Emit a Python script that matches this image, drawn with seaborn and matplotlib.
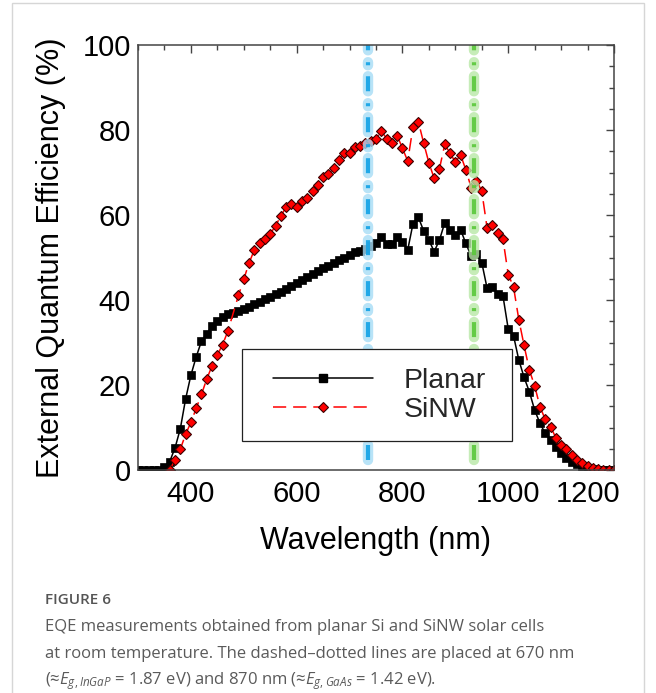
import numpy as np
import pandas as pd
import matplotlib
matplotlib.use("Agg")
import matplotlib.pyplot as plt
import seaborn as sns
from matplotlib.patches import Rectangle
from matplotlib.transforms import ScaledTranslation
from matplotlib.lines import Line2D

# ---------------- data ----------------
planar_wl = [300, 310, 320, 330, 340, 350, 360, 370, 380, 390,
             400, 410, 420, 430, 440, 450, 460, 470, 480, 490,
             500, 510, 520, 530, 540, 550, 560, 570, 580, 590,
             600, 610, 620, 630, 640, 650, 660, 670, 680, 690,
             700, 710, 720, 730, 740, 750, 760, 770, 780, 790,
             800, 810, 820, 830, 840, 850, 860, 870, 880, 890,
             900, 910, 920, 930, 940, 950, 960, 970, 980, 990,
             1000, 1010, 1020, 1030, 1040, 1050, 1060, 1070, 1080, 1090,
             1100, 1110, 1120, 1130, 1140, 1150, 1160, 1170, 1180, 1190,
             1200]
planar_eqe = [0.0, 0.0, 0.0, 0.0, 0.0, 0.8, 2.0, 5.2, 9.7, 16.7,
              22.3, 26.6, 30.3, 32.0, 33.9, 35.0, 36.0, 36.6, 37.0, 37.4,
              37.9, 38.4, 39.0, 39.6, 40.2, 40.8, 41.4, 42.0, 42.7, 43.4,
              44.1, 44.8, 45.5, 46.2, 46.9, 47.5, 48.1, 48.8, 49.4, 50.0,
              50.6, 51.2, 51.6, 52.1, 52.6, 53.4, 54.9, 53.2, 53.2, 54.9,
              53.7, 51.8, 58.0, 59.5, 56.3, 54.1, 51.4, 54.1, 58.2, 56.5,
              55.3, 56.5, 53.3, 50.3, 50.9, 48.8, 42.8, 43.1, 41.3, 41.0,
              33.2, 31.6, 25.9, 21.8, 18.4, 14.1, 11.0, 8.6, 7.1, 5.5,
              3.9, 2.9, 2.0, 1.4, 0.9, 0.5, 0.2, 0.1, 0.0, 0.0,
              0.0]

sinw_wl = [360, 370, 380, 390, 400, 410, 420, 430, 440, 450,
           460, 470, 490, 500, 510, 520, 530, 540, 550, 560,
           570, 580, 590, 600, 610, 620, 630, 640, 650, 660,
           670, 680, 690, 700, 710, 720, 730, 740, 750, 760,
           770, 780, 790, 800, 810, 820, 830, 840, 850, 860,
           870, 880, 890, 900, 910, 920, 930, 940, 950, 960,
           970, 980, 990, 1000, 1010, 1020, 1030, 1040, 1050, 1060,
           1070, 1080, 1090, 1100, 1110, 1120, 1130, 1140, 1150, 1160,
           1170, 1180, 1190, 1200]
sinw_eqe = [0.0, 2.4, 4.9, 8.4, 11.2, 14.5, 17.8, 21.4, 24.5, 27.1,
            29.5, 32.7, 41.1, 44.9, 48.7, 51.8, 53.5, 54.3, 55.6, 57.4,
            59.8, 61.8, 62.6, 62.0, 63.4, 64.1, 65.7, 67.1, 68.9, 69.6,
            71.0, 72.9, 74.5, 74.5, 76.1, 76.2, 76.9, 77.5, 77.9, 79.8,
            78.0, 77.0, 78.7, 75.7, 72.7, 80.8, 82.0, 77.0, 72.3, 68.6,
            70.9, 76.6, 74.5, 72.5, 74.1, 70.6, 66.4, 68.1, 65.6, 57.0,
            57.6, 55.8, 54.4, 46.0, 43.1, 35.4, 29.3, 23.5, 19.8, 14.9,
            11.9, 10.2, 7.6, 5.9, 4.9, 3.5, 2.4, 1.6, 1.0, 0.5,
            0.2, 0.1, 0.0, 0.0]

series_labels = ["Planar", "SiNW"]
marker_lines_nm = [735, 935]   # positions of the dash-dotted lines as drawn

x_ticks = [400, 600, 800, 1000, 1200]
y_ticks = [0, 20, 40, 60, 80, 100]

# ---------------- style ----------------
sns.set_theme(style="white")
plt.rcParams["font.family"] = ["Liberation Sans", "DejaVu Sans"]
plt.rcParams["lines.scale_dashes"] = False
plt.rcParams["mathtext.fontset"] = "custom"
plt.rcParams["mathtext.rm"] = "Open Sans"
plt.rcParams["mathtext.it"] = "Open Sans:italic"

W, H = 656, 693
fig = plt.figure(figsize=(W / 100, H / 100), dpi=100)
fig.patch.set_facecolor("white")

ax_l, ax_r, ax_t, ax_b = 138, 614, 45, 470
ax = fig.add_axes([ax_l / W, 1 - ax_b / H, (ax_r - ax_l) / W, (ax_b - ax_t) / H])
ax.set_facecolor("white")

df_p = pd.DataFrame({"wl": planar_wl, "eqe": planar_eqe})
df_s = pd.DataFrame({"wl": sinw_wl, "eqe": sinw_eqe})

SQ = 6.3
DM = 5.6
sns.lineplot(data=df_p, x="wl", y="eqe", ax=ax, color="black", linewidth=1.1,
             marker="s", markersize=SQ, markerfacecolor="black",
             markeredgecolor="black", markeredgewidth=0.5, errorbar=None,
             estimator=None, sort=False, zorder=3)
sns.lineplot(data=df_s, x="wl", y="eqe", ax=ax, color="#ff0000", linewidth=1.1,
             linestyle=(0, (9.5, 5.0)),
             marker="D", markersize=DM, markerfacecolor="#ff0000",
             markeredgecolor="#3a0000", markeredgewidth=0.8, errorbar=None,
             estimator=None, sort=False, zorder=4)

# dash-dotted glowing vertical lines
pattern = (10.8, 8.6, 2.2, 7.9)
for xv, core, halo in zip(marker_lines_nm, ["#12a2e6", "#5ac83a"], ["#a6dcf6", "#b8e8a6"]):
    l1 = ax.plot([xv, xv], [100, 0], color=halo, lw=7.5, alpha=0.8,
                 dash_capstyle="round", zorder=5)[0]
    l1.set_linestyle((7.0, pattern))
    l2 = ax.plot([xv, xv], [100, 0], color=core, lw=3.0, alpha=0.9,
                 dash_capstyle="butt", zorder=6)[0]
    l2.set_linestyle((7.0, pattern))

ax.set_xlim(300, 1200)
ax.set_ylim(0, 100)
ax.set_xticks(x_ticks)
ax.set_yticks(y_ticks)
ax.set_xticks(np.arange(300, 1201, 50), minor=True)
ax.set_yticks(np.arange(0, 101, 5), minor=True)
ax.tick_params(which="both", direction="in", top=True, right=True,
               color="#444444", width=1.0)
ax.tick_params(which="major", length=6, labelsize=21, pad=5, labelcolor="black")
ax.tick_params(which="minor", length=3.6)
ax.tick_params(axis="x", which="major", pad=7)
for sp in ax.spines.values():
    sp.set_color("#444444")
    sp.set_linewidth(1.1)
    sp.set_zorder(9)

ax.set_xlabel("Wavelength (nm)", fontsize=22, labelpad=13, color="black")
ax.set_ylabel("External Quantum Efficiency (%)", fontsize=22, labelpad=12, color="black")

# shift the last x tick label inward as in the reference
fig.canvas.draw()
lab = ax.get_xticklabels()[-1]
lab.set_transform(lab.get_transform() + ScaledTranslation(-26 / 100, 0, fig.dpi_scale_trans))

# legend (white opaque box covering the vertical lines)
handles = [
    Line2D([], [], color="black", lw=1.1, marker="s", markersize=SQ,
           markerfacecolor="black", markeredgecolor="black"),
    Line2D([], [], color="#ff0000", lw=1.1, linestyle=(0, (9.5, 5.0)), marker="D",
           markersize=DM, markerfacecolor="#ff0000", markeredgecolor="#3a0000",
           markeredgewidth=0.8),
]
leg = ax.legend(handles, series_labels, frameon=False, fontsize=20.5, numpoints=1,
                loc="center left",
                bbox_to_anchor=((273 - ax_l) / (ax_r - ax_l), (ax_b - 395.5) / (ax_b - ax_t)),
                borderpad=0, borderaxespad=0, handlelength=3.5, handletextpad=1.1,
                labelspacing=0.1)
leg.set_zorder(8)
ax.add_patch(Rectangle(((242 - ax_l) / (ax_r - ax_l), (ax_b - 441) / (ax_b - ax_t)),
                       (512 - 242) / (ax_r - ax_l), (441 - 349) / (ax_b - ax_t),
                       transform=ax.transAxes, facecolor="white", edgecolor="#222222",
                       lw=0.9, zorder=7))

# frame of the page
fig.add_artist(Rectangle((12 / W, -0.05), (644 - 12) / W, 1.05 - 3 / H,
                         transform=fig.transFigure, fill=False,
                         edgecolor="#d6d6d6", lw=1.0))

# caption
cap_font = ["Open Sans", "DejaVu Sans"]
fig.text(45 / W, 1 - 600 / H, "FIGURE 6", family=cap_font, fontsize=11,
         color="#555555", va="center", ha="left", weight="semibold")
cap_lines = [
    "EQE measurements obtained from planar Si and SiNW solar cells",
    "at room temperature. The dashed\u2013dotted lines are placed at 670 nm",
    "(\u2248$E_{g,InGaP}$ = 1.87 eV) and 870 nm (\u2248$E_{g,GaAs}$ = 1.42 eV).",
]
cap_y = [627, 654, 681]
for t, yy in zip(cap_lines, cap_y):
    fig.text(45 / W, 1 - yy / H, t, family=cap_font,
             fontsize=12.0, color="#5a5a5a", va="center", ha="left")

fig.savefig("out.png", dpi=100, facecolor="white")
